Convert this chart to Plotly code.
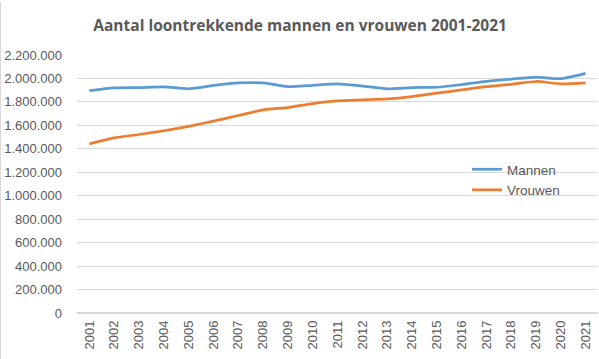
import plotly.graph_objects as go

years = [str(y) for y in range(2001, 2022)]
mannen = [1896000, 1919000, 1922000, 1928000, 1912000, 1940000, 1962000, 1962000, 1930000, 1942000,
          1954000, 1935000, 1912000, 1922000, 1925000, 1948000, 1975000, 1995000, 2012000, 1998000, 2043000]
vrouwen = [1442000, 1493000, 1522000, 1554000, 1592000, 1636000, 1684000, 1732000, 1752000, 1785000,
           1808000, 1817000, 1826000, 1846000, 1874000, 1902000, 1930000, 1950000, 1974000, 1954000, 1962000]
y_ticks = list(range(0, 2200001, 200000))
y_labels = ["0"] + [f"{v:,}".replace(",", ".") for v in y_ticks[1:]]

fig = go.Figure()
fig.add_trace(go.Scatter(x=years, y=mannen, name="Mannen", mode="lines",
                         line=dict(color="#5B9BD5", width=2.75, shape="spline", smoothing=0.6)))
fig.add_trace(go.Scatter(x=years, y=vrouwen, name="Vrouwen", mode="lines",
                         line=dict(color="#ED7D31", width=2.75, shape="spline", smoothing=0.6)))

L, R, T, B = 77, 1, 55, 46
PW, PH = 599 - L - R, 359 - T - B

fig.update_layout(
    width=599, height=359,
    margin=dict(l=L, r=R, t=T, b=B),
    paper_bgcolor="white", plot_bgcolor="white",
    font=dict(family="Liberation Sans, Arial, sans-serif", size=13, color="#595959"),
    title=dict(text="<b>Aantal loontrekkende mannen en vrouwen 2001-2021</b>",
               x=0.501, xanchor="center", y=1 - 26 / 359, yanchor="middle", yref="container",
               font=dict(size=15.5, color="#595959", family="Open Sans, Liberation Sans, sans-serif")),
    xaxis=dict(type="category", range=[-0.5, 20.5], tickangle=-90, showgrid=False,
               showline=False, ticks="", ticklabelstandoff=4, tickfont=dict(size=13, color="#595959")),
    yaxis=dict(range=[0, 2200000], tickvals=y_ticks, ticktext=y_labels, showgrid=True,
               gridcolor="#D9D9D9", gridwidth=1, zeroline=True, zerolinecolor="#D9D9D9",
               showline=False, ticks="", ticklabelstandoff=14, tickfont=dict(size=13, color="#595959")),
    showlegend=True,
    legend=dict(x=(467 - L) / PW, y=(359 - B - 154) / PH, xanchor="left", yanchor="top",
                bgcolor="rgba(0,0,0,0)", font=dict(size=13.5, color="#595959"),
                itemwidth=30, tracegroupgap=0),
    shapes=[dict(type="line", xref="paper", yref="paper", x0=-(L - 0.5) / PW, x1=-(L - 0.5) / PW,
                 y0=-B / PH, y1=(PH + T - 2) / PH, line=dict(color="#D9D9D9", width=1))],
)

fig.write_html("out.html", config={"displayModeBar": False},
               post_script="document.body.style.margin='0';document.body.style.overflow='hidden';")
